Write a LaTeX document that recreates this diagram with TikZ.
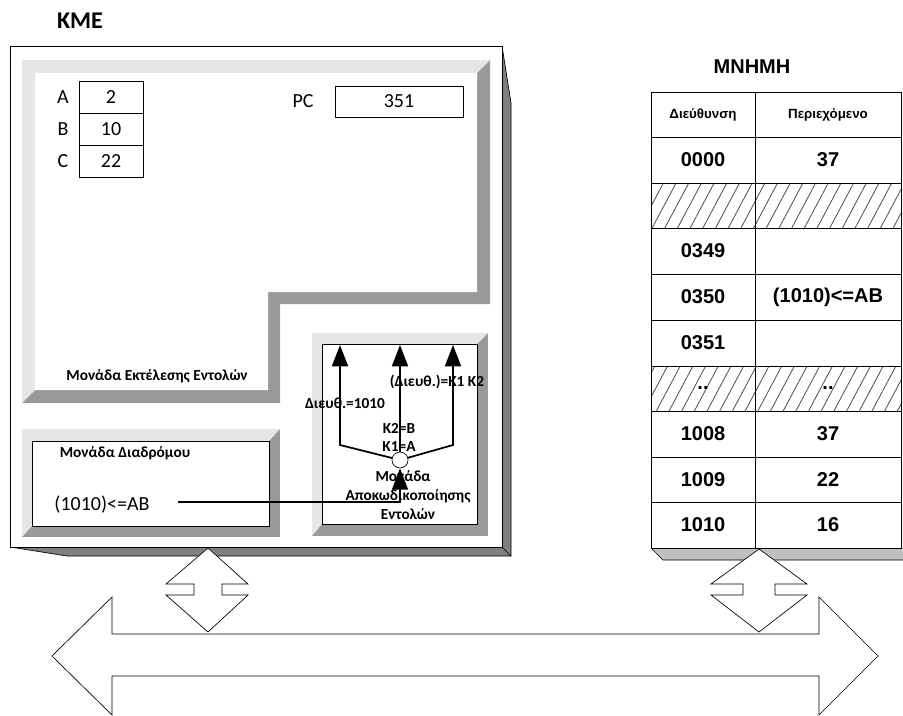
\documentclass[tikz,border=0pt]{standalone}
\usepackage{fontspec}
\setmainfont{Carlito}
\newfontfamily\arialfont{Liberation Sans}
\usetikzlibrary{arrows.meta,patterns.meta}
\definecolor{bevlight}{HTML}{E6E6E6}
\definecolor{bevdark}{HTML}{999999}
\definecolor{sidedark}{HTML}{808080}
\definecolor{sidelight}{HTML}{C0C0C0}

\begin{document}
\begin{tikzpicture}[x=0.75pt, y=-0.75pt, line width=0.5pt,
  lbl/.style={font=\fontsize{11.5}{13}\selectfont\bfseries, inner sep=0pt},
  reg/.style={font=\fontsize{15}{17}\selectfont, inner sep=0pt},
  mem/.style={font=\arialfont\bfseries\fontsize{15}{17}\selectfont, inner sep=0pt},
  memhead/.style={font=\arialfont\bfseries\fontsize{10}{12}\selectfont, inner sep=0pt},
  bigtip/.style={line width=1.3pt, -{Triangle[width=12pt, length=16pt]}},
  hatch/.style={pattern={Lines[angle=62, distance=8.4pt, line width=0.6pt]}, pattern color=black!70}]
  \useasboundingbox (0,0) rectangle (903,715);

  % KME
  \node[font=\fontsize{18}{20}\selectfont\bfseries] (kme) at (80,21) {ΚΜΕ};
  \fill[sidedark] (502,46) -- (511,103) -- (511,556) -- (502,547) -- cycle;
  \fill[sidedark] (10,547) -- (67,556) -- (511,556) -- (502,547) -- cycle;
  \draw (502,46) -- (511,103) -- (511,556) -- (67,556) -- (10,547);
  \draw (502,547) -- (511,556);
  \draw[fill=white] (10,46) rectangle (502,547);

  % execution unit
  \fill[bevdark] (22,60) -- (490,60) -- (490,304) -- (280,304) -- (280,403) -- (22,403) -- cycle;
  \fill[bevlight] (22,403) -- (22,60) -- (490,60) -- (477,73) -- (35,73) -- (35,390) -- cycle;
  \fill[white] (35,73) -- (477,73) -- (477,292) -- (268,292) -- (268,390) -- (35,390) -- cycle;
  \node[lbl] (exec) at (157,376) {Μονάδα Εκτέλεσης Εντολών};

  % registers
  \draw (79,81) rectangle (143,177);
  \draw (79,113) -- (143,113);
  \draw (79,145) -- (143,145);
  \node[reg] (ra) at (63,97) {A};
  \node[reg] (rb) at (63,129) {B};
  \node[reg] (rc) at (63,161) {C};
  \node[reg] (va) at (111,97) {2};
  \node[reg] (vb) at (111,129) {10};
  \node[reg] (vc) at (111,161) {22};
  \node[reg] (pc) at (303,101) {PC};
  \draw (335,86) rectangle (463,117);
  \node[reg] (vpc) at (399,101) {351};

  % decoder unit
  \fill[bevdark] (312,333) rectangle (488,536);
  \fill[bevlight] (312,536) -- (312,333) -- (488,333) -- (477,344) -- (322,344) -- (322,524) -- cycle;
  \draw[fill=white] (322,344) rectangle (477,524);

  % routing unit
  \fill[bevdark] (22,429) rectangle (280,537);
  \fill[bevlight] (22,537) -- (22,429) -- (280,429) -- (269,441) -- (32,441) -- (32,526) -- cycle;
  \draw[fill=white] (32,441) rectangle (269,526);
  \node[lbl] (route) at (125,453) {Μονάδα Διαδρόμου};
  \node[reg] (instr) at (102,505) {(1010)<=AB};

  % decoder paths
  \node[circle, draw, fill=white, inner sep=0pt, minimum size=12pt] (hub) at (400,460) {};
  \coordinate (tl) at (340,345);
  \coordinate (tc) at (400,345);
  \coordinate (tr) at (453,345);
  \coordinate (kl) at (340,445);
  \coordinate (kr) at (453,445);
  \coordinate (feed) at (178,502);
  \coordinate (bend) at (400,502);
  \draw[bigtip] (hub) -- (kl) -- (tl);
  \draw[bigtip] (hub) -- (tc);
  \draw[bigtip] (hub) -- (kr) -- (tr);
  \draw[bigtip] (feed) -- (bend) -- (hub);
  \node[lbl] (ind) at (437,382) {(Διευθ.)=K1 K2};
  \node[lbl] (adr) at (345,403) {Διευθ.=1010};
  \node[lbl] (k2) at (399,428) {K2=B};
  \node[lbl] (k1) at (399,447) {K1=A};
  \node[lbl] (dec1) at (403,476) {Μονάδα};
  \node[lbl] (dec2) at (408,496) {Αποκωδικοποίησης};
  \node[lbl] (dec3) at (408,514) {Εντολών};

  % memory
  \node[mem] (mnh) at (752,67) {ΜΝΗΜΗ};
  \fill[sidelight] (651,548) -- (663,560) -- (903,560) -- (903,548) -- cycle;
  \draw (651,548) -- (663,560) -- (903,560);
  \fill[white] (651,92) rectangle (901,548);
  \fill[hatch] (651,183) rectangle (901,228);
  \fill[hatch] (651,366) rectangle (901,411);
  \draw (651,92) rectangle (901,548);
  \draw (755,92) -- (755,548);
  \draw (651,137) -- (901,137);
  \draw (651,183) -- (901,183);
  \draw (651,228) -- (901,228);
  \draw (651,274) -- (901,274);
  \draw (651,320) -- (901,320);
  \draw (651,366) -- (901,366);
  \draw (651,411) -- (901,411);
  \draw (651,457) -- (901,457);
  \draw (651,502) -- (901,502);
  \node[memhead] (hadr) at (703,115) {Διεύθυνση};
  \node[memhead] (hcon) at (828,115) {Περιεχόμενο};
  \node[mem] (a0) at (703,160) {0000};
  \node[mem] (c0) at (828,160) {37};
  \node[mem] (a349) at (703,251) {0349};
  \node[mem] (a350) at (703,297) {0350};
  \node[mem] (c350) at (828,297) {(1010)<=AB};
  \node[mem] (a351) at (703,343) {0351};
  \node[mem] (adots) at (703,388) {..};
  \node[mem] (cdots) at (828,388) {..};
  \node[mem] (a1008) at (703,434) {1008};
  \node[mem] (c1008) at (828,434) {37};
  \node[mem] (a1009) at (703,480) {1009};
  \node[mem] (c1009) at (828,480) {22};
  \node[mem] (a1010) at (703,525) {1010};
  \node[mem] (c1010) at (828,525) {16};

  % bus
  \draw[fill=white] (208,548) -- (248,584) -- (222,584) -- (222,595) -- (248,595) -- (208,632)
    -- (166,595) -- (194,595) -- (194,584) -- (166,584) -- cycle;
  \draw[fill=white] (759,549) -- (807,584) -- (775,584) -- (775,595) -- (807,595) -- (759,632)
    -- (711,595) -- (743,595) -- (743,584) -- (711,584) -- cycle;
  \draw[fill=white] (52,656) -- (112,597) -- (112,634) -- (819,634) -- (819,597) -- (878,656)
    -- (819,715) -- (819,676) -- (112,676) -- (112,715) -- cycle;
\end{tikzpicture}
\end{document}
